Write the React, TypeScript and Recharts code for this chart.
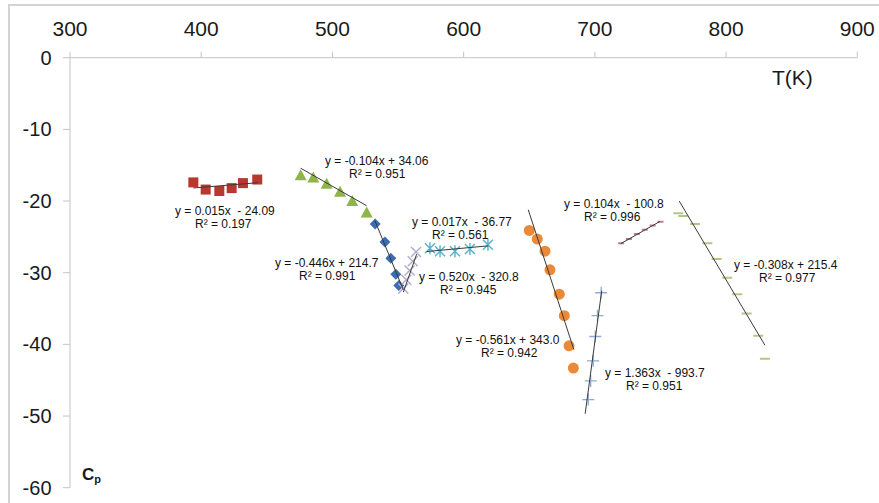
import React from 'react';
import { ScatterChart, Scatter, XAxis, YAxis } from 'recharts';

// Heat capacity vs temperature, one series per temperature range
const redT = [394, 403.4, 413.8, 423.2, 431.8, 442.7];
const redCp = [-17.4, -18.4, -18.6, -18.2, -17.5, -17.0];

const triT = [475.8, 485.4, 495.6, 505.8, 515.1, 526.1];
const triCp = [-16.4, -16.7, -17.6, -18.7, -20.0, -21.6];

const diaT = [532.6, 540.0, 544.5, 548.3, 550.6];
const diaCp = [-23.2, -25.7, -28.0, -30.2, -31.8];

const crossT = [554.0, 556.3, 558.8, 561.2, 563.7];
const crossCp = [-32.2, -31.0, -29.7, -28.4, -27.1];

const starT = [574.3, 582.0, 593.4, 604.8, 618.5];
const starCp = [-26.6, -27.0, -27.0, -26.7, -26.1];

const dotT = [650.0, 656.1, 662.0, 665.8, 672.9, 676.7, 680.3, 683.6];
const dotCp = [-24.1, -25.3, -27.0, -29.6, -33.0, -36.0, -40.2, -43.3];

const plusT = [704.8, 702.0, 700.3, 698.7, 696.8, 695.0];
const plusCp = [-32.8, -36.0, -38.9, -42.3, -45.1, -47.7];

const pinkT = [720, 726, 732, 738, 744, 750];
const pinkCp = [-25.9, -25.3, -24.6, -24.0, -23.4, -22.9];

const dashT = [763.6, 767.4, 776.3, 785.7, 792.8, 800.9, 808.5, 815.7, 824.5, 829.6];
const dashCp = [-21.7, -22.1, -23.2, -25.9, -28.1, -30.7, -33.0, -35.7, -38.8, -42.0];

// linear fits: slope, intercept, x range, printed equation and R²
const fitSlope = [0.015, -0.104, -0.446, 0.52, 0.017, -0.561, 1.363, 0.104, -0.308];
const fitIntercept = [-24.09, 34.06, 214.7, -320.8, -36.77, 343.0, -993.7, -100.8, 215.4];
const fitFrom = [394, 475.8, 532.3, 554, 571.7, 649.2, 692.6, 719.6, 764.3];
const fitTo = [443, 526, 554, 564.2, 618.7, 684, 705.2, 749.6, 829.6];
const fitEq = [
  'y = 0.015x  - 24.09',
  'y = -0.104x + 34.06',
  'y = -0.446x + 214.7',
  'y = 0.520x  - 320.8',
  'y = 0.017x  - 36.77',
  'y = -0.561x + 343.0',
  'y = 1.363x  - 993.7',
  'y = 0.104x  - 100.8',
  'y = -0.308x + 215.4',
];
const fitR2 = ['0.197', '0.951', '0.991', '0.945', '0.561', '0.942', '0.951', '0.996', '0.977'];

// where each equation block sits (left edge, first-line centre, second-line indent)
const eqPos = [
  [175, 212, 20],
  [325, 162, 24],
  [275, 264, 24],
  [419, 278, 21],
  [412, 223, 20],
  [456, 341, 25],
  [605, 374, 21],
  [564, 205, 20],
  [734, 266, 25],
];

const xTicks = [300, 400, 500, 600, 700, 800, 900];
const yTicks = [0, -10, -20, -30, -40, -50, -60];

const pts = (ts: number[], cps: number[]) => ts.map((t, i) => ({ t, cp: cps[i] }));

const square = (c: string) => (p: any) => (
  <rect x={p.cx - 5} y={p.cy - 5} width={10} height={10} fill={c} />
);
const triangle = (c: string) => (p: any) => (
  <path d={`M${p.cx},${p.cy - 6}L${p.cx + 6},${p.cy + 5}L${p.cx - 6},${p.cy + 5}Z`} fill={c} />
);
const diamond = (c: string) => (p: any) => (
  <path d={`M${p.cx},${p.cy - 5.5}L${p.cx + 5.5},${p.cy}L${p.cx},${p.cy + 5.5}L${p.cx - 5.5},${p.cy}Z`} fill={c} />
);
const cross = (c: string) => (p: any) => (
  <path d={`M${p.cx - 5},${p.cy - 5}L${p.cx + 5},${p.cy + 5}M${p.cx + 5},${p.cy - 5}L${p.cx - 5},${p.cy + 5}`} stroke={c} strokeWidth={1.4} />
);
const star = (c: string) => (p: any) => (
  <path
    d={`M${p.cx - 5},${p.cy - 5}L${p.cx + 5},${p.cy + 5}M${p.cx + 5},${p.cy - 5}L${p.cx - 5},${p.cy + 5}M${p.cx},${p.cy - 6}L${p.cx},${p.cy + 6}`}
    stroke={c}
    strokeWidth={1.4}
  />
);
const circle = (c: string) => (p: any) => <circle cx={p.cx} cy={p.cy} r={5.5} fill={c} />;
const plus = (c: string) => (p: any) => (
  <path d={`M${p.cx - 6},${p.cy}L${p.cx + 6},${p.cy}M${p.cx},${p.cy - 6}L${p.cx},${p.cy + 6}`} stroke={c} strokeWidth={1.3} />
);
const dash = (c: string, w: number) => (p: any) => (
  <path d={`M${p.cx - w / 2},${p.cy}L${p.cx + w / 2},${p.cy}`} stroke={c} strokeWidth={2} />
);
const noShape = () => <g />;

const markerSeries = [
  { data: pts(redT, redCp), shape: square('#b8382f') },
  { data: pts(triT, triCp), shape: triangle('#8fb447') },
  { data: pts(diaT, diaCp), shape: diamond('#3b6db3') },
  { data: pts(crossT, crossCp), shape: cross('#b2abc9') },
  { data: pts(starT, starCp), shape: star('#55b4cc') },
  { data: pts(dotT, dotCp), shape: circle('#ea8a38') },
  { data: pts(plusT, plusCp), shape: plus('#8faad6') },
  { data: pts(pinkT, pinkCp), shape: dash('#c47b90', 6) },
  { data: pts(dashT, dashCp), shape: dash('#b3c785', 10) },
];

const trendData = fitSlope.map((m, i) => [
  { t: fitFrom[i], cp: m * fitFrom[i] + fitIntercept[i] },
  { t: fitTo[i], cp: m * fitTo[i] + fitIntercept[i] },
]);

const FONT = '"Liberation Sans", Arial, sans-serif';

export default function App() {
  return (
    <div style={{ position: 'fixed', left: 0, top: 0, width: 879, height: 503, background: '#fff', overflow: 'hidden', fontFamily: FONT }}>
      <div
        style={{
          position: 'absolute',
          left: 8,
          top: 4,
          width: 900,
          height: 520,
          borderTop: '2px solid #d4d4d4',
          borderLeft: '2px solid #d4d4d4',
        }}
      />
      <ScatterChart
        width={879}
        height={503}
        margin={{ top: 0, right: 21.7, bottom: 15.3, left: 0 }}
        style={{ position: 'absolute', left: 0, top: 0 }}
      >
        <XAxis
          type="number"
          dataKey="t"
          orientation="top"
          domain={[300, 900]}
          ticks={xTicks}
          height={57.7}
          allowDataOverflow
          stroke="#c4c4c4"
          tickSize={6}
          tickMargin={16}
          tick={{ fill: '#1a1a1a', fontSize: 21, fontFamily: FONT }}
        />
        <YAxis
          type="number"
          dataKey="cp"
          domain={[-60, 0]}
          ticks={yTicks}
          width={70}
          allowDataOverflow
          stroke="#c4c4c4"
          tickSize={7}
          tickMargin={11.5}
          tick={{ fill: '#1a1a1a', fontSize: 20, fontFamily: FONT }}
        />
        {markerSeries.map((s, i) => (
          <Scatter key={`m${i}`} data={s.data} shape={s.shape} isAnimationActive={false} />
        ))}
        {trendData.map((d, i) => (
          <Scatter
            key={`f${i}`}
            data={d}
            shape={noShape}
            line={{ stroke: '#3a3a3a', strokeWidth: 1 }}
            isAnimationActive={false}
          />
        ))}
      </ScatterChart>

      {fitEq.map((eq, i) => (
        <div key={eq} style={{ position: 'absolute', left: eqPos[i][0], top: eqPos[i][1] - 7, fontSize: 12, lineHeight: '13px', color: '#111', whiteSpace: 'pre' }}>
          <div>{eq}</div>
          <div style={{ marginLeft: eqPos[i][2] }}>R² = {fitR2[i]}</div>
        </div>
      ))}

      <div style={{ position: 'absolute', left: 772, top: 66, fontSize: 21, color: '#1a1a1a' }}>T(K)</div>
      <div style={{ position: 'absolute', left: 82, top: 465, fontSize: 17, fontWeight: 'bold', color: '#1a1a1a' }}>
        C<sub style={{ fontSize: 11, verticalAlign: '-3px' }}>p</sub>
      </div>
    </div>
  );
}
